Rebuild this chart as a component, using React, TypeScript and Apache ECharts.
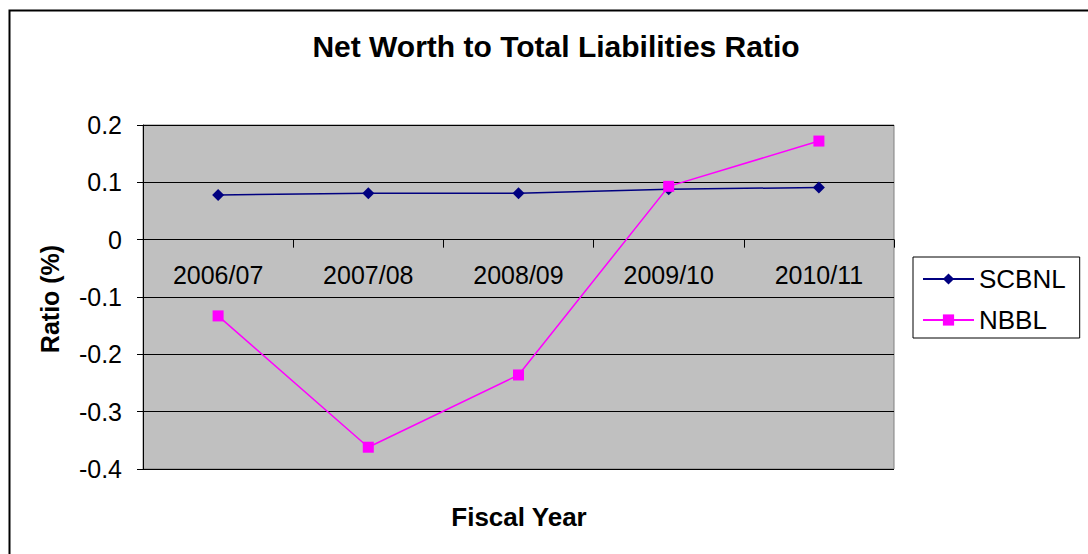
import React, { useEffect, useRef } from "react";
import * as echarts from "echarts";

const categories = ["2006/07", "2007/08", "2008/09", "2009/10", "2010/11"];
const scbnl = [0.078, 0.081, 0.081, 0.088, 0.091];
const nbbl = [-0.133, -0.362, -0.236, 0.093, 0.172];
const chartTitle = "Net Worth to Total Liabilities Ratio";
const xName = "Fiscal Year";
const yName = "Ratio (%)";

const FONT = "'Liberation Sans', Arial, sans-serif";

export default function App() {
  const ref = useRef<HTMLDivElement>(null);
  useEffect(() => {
    if (!ref.current) return;
    const chart = echarts.init(ref.current, undefined, { renderer: "svg" });
    chart.setOption({
      animation: false,
      backgroundColor: "#ffffff",
      textStyle: { fontFamily: FONT },
      title: {
        text: chartTitle,
        left: 551,
        textAlign: "center",
        top: 26,
        textStyle: { fontSize: 30, fontWeight: "bold", color: "#000", fontFamily: FONT },
      },
      legend: {
        orient: "vertical",
        left: 913,
        top: 257,
        padding: [7, 14, 3, 9],
        itemWidth: 51,
        itemHeight: 14,
        itemGap: 11,
        borderColor: "#000",
        borderWidth: 1,
        backgroundColor: "#fff",
        textStyle: { fontSize: 26, color: "#000", lineHeight: 30, fontFamily: FONT },
        data: ["SCBNL", "NBBL"],
      },
      grid: {
        left: 143,
        right: 194,
        top: 125,
        bottom: 85,
        show: true,
        backgroundColor: "#C0C0C0",
        borderColor: "#808080",
        borderWidth: 1,
      },
      xAxis: {
        type: "category",
        data: categories,
        boundaryGap: true,
        axisLine: { onZero: true, lineStyle: { color: "#000", width: 1 } },
        axisTick: { show: true, length: 8, lineStyle: { color: "#000" } },
        axisLabel: { margin: -207, fontSize: 25, color: "#000", fontFamily: FONT },
        splitLine: { show: false },
      },
      yAxis: {
        type: "value",
        min: -0.4,
        max: 0.2,
        interval: 0.1,
        axisLine: { show: true, lineStyle: { color: "#000", width: 1 } },
        axisTick: { show: true, length: 6, lineStyle: { color: "#000" } },
        axisLabel: {
          margin: 21,
          fontSize: 25,
          color: "#000",
          fontFamily: FONT,
          formatter: (v: number) => {
            const r = Math.round(v * 10) / 10;
            return r === 0 ? "0" : r.toFixed(1);
          },
        },
        splitLine: { show: true, lineStyle: { color: "#000", width: 1 } },
      },
      graphic: [
        {
          type: "rect",
          left: 7,
          top: 8,
          shape: { x: 0, y: 0, width: 1200, height: 700 },
          style: { fill: "none", stroke: "#000", lineWidth: 2 },
          silent: true,
          z: 100,
        },
        {
          type: "text",
          x: 519,
          y: 517,
          style: {
            text: xName,
            fontSize: 26,
            fontWeight: "bold",
            fontFamily: FONT,
            fill: "#000",
            align: "center",
            verticalAlign: "middle",
          },
        },
        {
          type: "text",
          x: 50,
          y: 299,
          rotation: Math.PI / 2,
          style: {
            text: yName,
            fontSize: 25,
            fontWeight: "bold",
            fontFamily: FONT,
            fill: "#000",
            align: "center",
            verticalAlign: "middle",
          },
        },
      ],
      series: [
        {
          name: "SCBNL",
          type: "line",
          data: scbnl,
          symbol: "diamond",
          symbolSize: 12,
          showAllSymbol: true,
          lineStyle: { color: "#000080", width: 1.5 },
          itemStyle: { color: "#000080" },
          z: 3,
        },
        {
          name: "NBBL",
          type: "line",
          data: nbbl,
          symbol: "rect",
          symbolSize: 11,
          showAllSymbol: true,
          lineStyle: { color: "#FF00FF", width: 1.5 },
          itemStyle: { color: "#FF00FF" },
          z: 4,
        },
      ],
    });
    return () => chart.dispose();
  }, []);
  return (
    <div
      ref={ref}
      style={{ position: "fixed", left: 0, top: 0, width: 1088, height: 554 }}
    />
  );
}
